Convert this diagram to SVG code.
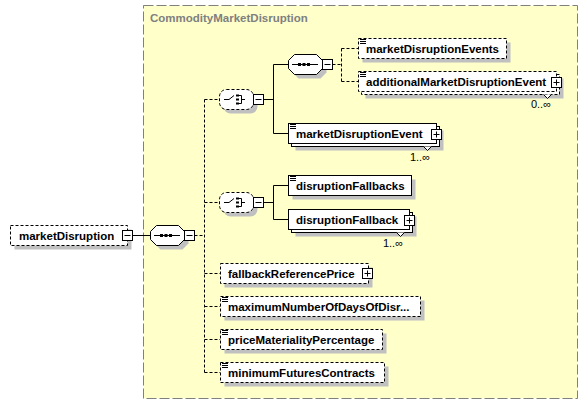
<svg xmlns="http://www.w3.org/2000/svg" xmlns:xlink="http://www.w3.org/1999/xlink" width="588" height="404" viewBox="0 0 588 404">
<style>
text{font-family:"Liberation Sans",Arial,sans-serif}
.lbl{font-size:11.5px;font-weight:bold;fill:#000}
.occ{font-size:11px;fill:#000}
.title{font-size:11.5px;font-weight:bold;fill:#808080}
.box{fill:#fff;stroke:#000;stroke-width:1}
.opt{stroke-dasharray:3,2}
.sh{fill:#c0c0c0}
.ln{fill:none;stroke:#000;stroke-width:1}
.dl{fill:none;stroke:#000;stroke-width:1;stroke-dasharray:3,2}
.pm{fill:#fff;stroke:#000;stroke-width:1}
.doc{fill:none;stroke:#000;stroke-width:1}
</style>
<defs>
<g id="minus"><rect class="pm" x="0.5" y="0.5" width="10" height="10"/><path class="ln" d="M2.5,5.5H8.5"/></g>
<g id="plus"><rect class="pm" x="0.5" y="0.5" width="10" height="10"/><path class="ln" d="M2.5,5.5H8.5M5.5,2.5V8.5"/></g>
<g id="docicon"><path class="doc" d="M0,0.5H6M0,2.5H6M0,4.5H6"/></g>
<g id="seq">
<path class="sh" d="M10.5,4.5H32.5L38.5,10.5V18.5L32.5,24.5H10.5L4.5,18.5V10.5Z"/>
<path class="box" d="M6.5,0.5H28.5L34.5,6.5V14.5L28.5,20.5H6.5L0.5,14.5V6.5Z"/>
<path class="ln" d="M4,10.5H30"/>
<rect x="10" y="9" width="3" height="3" fill="#000"/>
<rect x="14.5" y="9" width="3" height="3" fill="#000"/>
<rect x="19" y="9" width="3" height="3" fill="#000"/>
<use xlink:href="#minus" x="34" y="5"/>
</g>
<g id="choice">
<rect class="sh" x="4.5" y="4.5" width="34" height="20" rx="7"/>
<rect class="box opt" x="0.5" y="0.5" width="34" height="20" rx="7"/>
<path class="ln" d="M5,10.5H10L15,6.5"/>
<rect x="17" y="5.5" width="3" height="2" fill="#000"/>
<rect x="17" y="9.5" width="3" height="2" fill="#000"/>
<rect x="17" y="13.5" width="3" height="2" fill="#000"/>
<path class="ln" d="M20,6.5H22.5V14.5H20M22.5,10.5H26"/>
<use xlink:href="#minus" x="34" y="5"/>
</g>
</defs>

<g id="CommodityMarketDisruption">
<rect x="143.5" y="5.5" width="434" height="393" fill="#ffffca" stroke="#808080" stroke-width="1" stroke-dasharray="10,3"/>
<text class="title" x="150" y="22">CommodityMarketDisruption</text>
</g>

<g id="connectors">
<path class="ln" d="M132.5,235.5H150.5"/>
<path class="dl" d="M194.5,235.5H204.5M204.5,99.5V372.5M204.5,99.5H219.5M204.5,202.5H219.5M204.5,273.5H220.5M204.5,306.5H220.5M204.5,339.5H220.5M204.5,372.5H220.5"/>
<path class="ln" d="M263.5,99.5H273.5M273.5,64.5V133.5M273.5,64.5H288.5M273.5,133.5H288.5"/>
<path class="dl" d="M332.5,64.5H341.5M341.5,48.5V81.5M341.5,48.5H358.5M341.5,81.5H358.5"/>
<path class="ln" d="M263.5,202.5H273.5M273.5,185.5V219.5M273.5,185.5H288.5M273.5,219.5H288.5"/>
</g>

<g id="marketDisruption">
<rect class="sh" x="14.5" y="229.5" width="117" height="20"/>
<rect class="box opt" x="10.5" y="225.5" width="117" height="20"/>
<text class="lbl" x="19" y="240">marketDisruption</text>
<use xlink:href="#minus" x="122" y="230"/>
</g>

<g id="sequence1"><use xlink:href="#seq" x="150" y="225"/></g>
<g id="choice1"><use xlink:href="#choice" x="219" y="89"/></g>
<g id="sequence2"><use xlink:href="#seq" x="288" y="54"/></g>

<g id="marketDisruptionEvents">
<rect class="sh" x="362.5" y="42.5" width="148" height="20"/>
<rect class="box opt" x="358.5" y="38.5" width="148" height="20"/>
<use xlink:href="#docicon" x="360" y="39"/>
<text class="lbl" x="366" y="53">marketDisruptionEvents</text>
</g>

<g id="additionalMarketDisruptionEvent">
<rect class="sh" x="365.5" y="78.5" width="198" height="20"/>
<rect class="box opt" x="361.5" y="74.5" width="198" height="20"/>
<rect class="box opt" x="358.5" y="71.5" width="198" height="20"/>
<use xlink:href="#docicon" x="360" y="72"/>
<text class="lbl" x="366" y="86">additionalMarketDisruptionEvent</text>
<use xlink:href="#plus" x="551" y="77"/>
<path class="box" d="M543.5,94.5L547.5,98.5L551.5,94.5"/>
<text class="occ" x="551" y="108" text-anchor="end">0..∞</text>
</g>

<g id="marketDisruptionEvent">
<rect class="sh" x="295.5" y="130.5" width="148" height="20"/>
<rect class="box" x="291.5" y="126.5" width="148" height="20"/>
<rect class="box" x="288.5" y="123.5" width="148" height="20"/>
<use xlink:href="#docicon" x="290" y="124"/>
<text class="lbl" x="296" y="138">marketDisruptionEvent</text>
<use xlink:href="#plus" x="431" y="129"/>
<path class="box" d="M423.5,146.5L427.5,150.5L431.5,146.5"/>
<text class="occ" x="430" y="161" text-anchor="end">1..∞</text>
</g>

<g id="choice2"><use xlink:href="#choice" x="219" y="192"/></g>

<g id="disruptionFallbacks">
<rect class="sh" x="292.5" y="179.5" width="123" height="20"/>
<rect class="box" x="288.5" y="175.5" width="123" height="20"/>
<use xlink:href="#docicon" x="290" y="176"/>
<text class="lbl" x="296" y="190">disruptionFallbacks</text>
</g>

<g id="disruptionFallback">
<rect class="sh" x="295.5" y="216.5" width="121" height="20"/>
<rect class="box" x="291.5" y="212.5" width="121" height="20"/>
<rect class="box" x="288.5" y="209.5" width="121" height="20"/>
<text class="lbl" x="296" y="224">disruptionFallback</text>
<use xlink:href="#plus" x="404" y="215"/>
<path class="box" d="M396.5,232.5L400.5,236.5L404.5,232.5"/>
<text class="occ" x="403" y="247" text-anchor="end">1..∞</text>
</g>

<g id="fallbackReferencePrice">
<rect class="sh" x="224.5" y="267.5" width="148" height="20"/>
<rect class="box opt" x="220.5" y="263.5" width="148" height="20"/>
<text class="lbl" x="228" y="278">fallbackReferencePrice</text>
<use xlink:href="#plus" x="362" y="268"/>
</g>

<g id="maximumNumberOfDaysOfDisruption">
<rect class="sh" x="224.5" y="300.5" width="200" height="20"/>
<rect class="box opt" x="220.5" y="296.5" width="200" height="20"/>
<use xlink:href="#docicon" x="222" y="297"/>
<text class="lbl" x="228" y="311">maximumNumberOfDaysOfDisr...</text>
</g>

<g id="priceMaterialityPercentage">
<rect class="sh" x="224.5" y="333.5" width="162" height="20"/>
<rect class="box opt" x="220.5" y="329.5" width="162" height="20"/>
<use xlink:href="#docicon" x="222" y="330"/>
<text class="lbl" x="228" y="344">priceMaterialityPercentage</text>
</g>

<g id="minimumFuturesContracts">
<rect class="sh" x="224.5" y="366.5" width="164" height="20"/>
<rect class="box opt" x="220.5" y="362.5" width="164" height="20"/>
<use xlink:href="#docicon" x="222" y="363"/>
<text class="lbl" x="228" y="377">minimumFuturesContracts</text>
</g>
</svg>
